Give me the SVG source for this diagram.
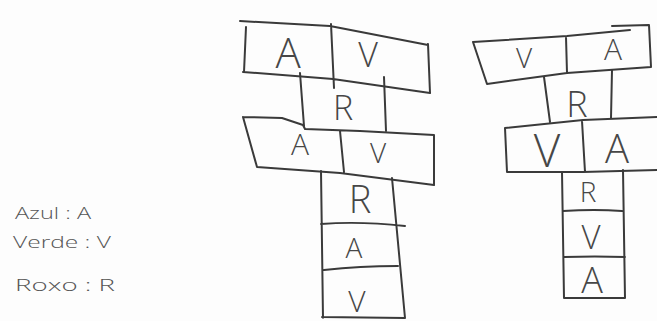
<svg xmlns="http://www.w3.org/2000/svg" width="657" height="321" viewBox="0 0 657 321">
<style>
.ln{fill:none;stroke:#3a3a3a;stroke-width:2;stroke-linecap:round;stroke-linejoin:round}
.lt{font-family:"Open Sans","Liberation Sans",sans-serif;font-weight:300;fill:#474747;text-anchor:middle}
.lg{font-family:"Open Sans","Liberation Sans",sans-serif;font-weight:300;fill:#555;font-size:17px}
</style>
<rect width="657" height="321" fill="#fdfdfd"/>
<g id="legend">
<text class="lg" x="15" y="219" textLength="76" lengthAdjust="spacingAndGlyphs">Azul : A</text>
<text class="lg" x="13" y="248" textLength="98" lengthAdjust="spacingAndGlyphs">Verde : V</text>
<text class="lg" x="15" y="291" textLength="100" lengthAdjust="spacingAndGlyphs">Roxo : R</text>
</g>
<g id="left-stack">
<g id="L-top-bar">
<path class="ln" d="M240,21 L330,26 L428,45 M246,27 L244,72 M243,72 L333,79 L430,93 M428,44 L430,93 M331,24 L334,88"/>
<text class="lt" x="288" y="68" font-size="42">A</text>
<text class="lt" x="368" y="67" font-size="34">V</text>
</g>
<g id="L-R-block">
<path class="ln" d="M300,73 L304,126 M384,77 L386,131"/>
<text class="lt" x="343" y="120" font-size="34">R</text>
</g>
<g id="L-mid-bar">
<path class="ln" d="M243,117 L282,118 L303,125 L305,129 L360,131 L434,135 M243,117 L257,167 L340,173 L434,185 M434,135 L434,185 M340,131 L344,172"/>
<text class="lt" x="300" y="155" font-size="30">A</text>
<text class="lt" x="378" y="163" font-size="28">V</text>
</g>
<g id="L-column">
<path class="ln" d="M321,171 L323,318 M392,178 L405,318 M322,317 L405,318 M321,224 Q360,221 405,226 M324,270 Q360,266 398,266"/>
<text class="lt" x="360" y="213" font-size="38">R</text>
<text class="lt" x="354" y="258" font-size="28">A</text>
<text class="lt" x="357" y="312" font-size="30">V</text>
</g>
</g>
<g id="right-stack">
<g id="R-top-bar">
<path class="ln" d="M473,42 L567,36 L630,30 M612,26 L649,25 L651,67 M473,42 L487,84 L567,73 L651,67 M566,37 L567,73"/>
<text class="lt" x="524" y="68" font-size="28">V</text>
<text class="lt" x="613" y="60" font-size="30">A</text>
</g>
<g id="R-R-block">
<path class="ln" d="M544,77 L550,122 M612,70 L611,118"/>
<text class="lt" x="577" y="117" font-size="36">R</text>
</g>
<g id="R-mid-bar">
<path class="ln" d="M505,128 L583,120 L657,117 M505,128 L507,172 L583,172 L657,170 M582,121 L585,172"/>
<text class="lt" x="547" y="167" font-size="46">V</text>
<text class="lt" x="617" y="163" font-size="40">A</text>
</g>
<g id="R-column">
<path class="ln" d="M562,172 L564,298 M623,170 L625,298 M564,298 L625,298 M563,211 Q595,209 622,211 M564,257 Q595,256 625,257"/>
<text class="lt" x="588" y="202" font-size="28">R</text>
<text class="lt" x="591" y="249" font-size="33">V</text>
<text class="lt" x="592" y="293" font-size="36">A</text>
</g>
</g>
<g id="connectors"/>
</svg>
